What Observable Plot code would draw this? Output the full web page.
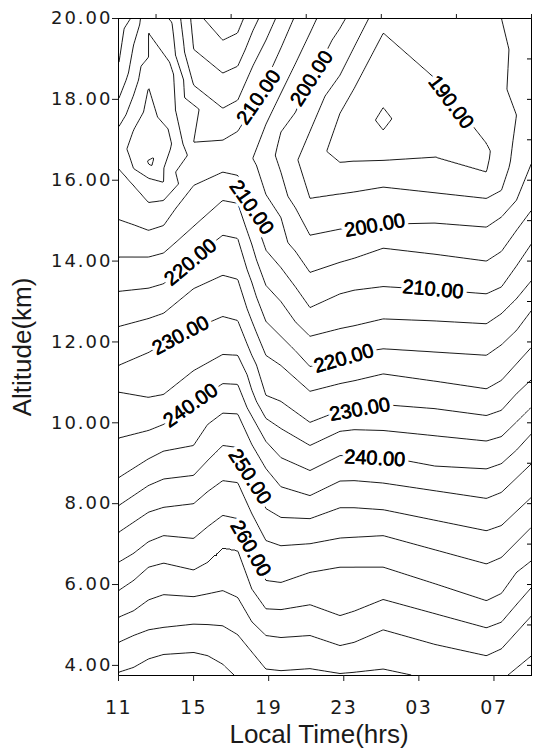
<!DOCTYPE html>
<html><head><meta charset="utf-8">
<script src="https://cdn.jsdelivr.net/npm/d3@7"></script>
<script src="https://cdn.jsdelivr.net/npm/@observablehq/plot@0.6"></script>
<style>body{margin:0;background:#fff} #chart svg{display:block}</style>
</head><body><div id="chart"></div>
<script>
// contour levels (K)
const levels = [185,190,195,200,205,210,215,220,225,230,235,240,245,250,255,260,265,270,275,280];

// local time columns (hours after 00 of day 1; 25 = 01 next day)
const colTime = [11.0, 11.8, 12.6, 13.4, 14.04, 15.0, 15.75, 16.55, 17.35, 18.15, 18.85, 19.65, 21.2, 22.8, 23.55, 25.1, 27.85, 30.6, 31.4, 33.0];
// temperatures read along each column
const colTemp = [
  [280,275,270,265,260,255,250,245,240,235,230,225,220,215,210,205,202.5,205,210,215],
  [280,275,270,265,260,215,210,205,200,198,200,205,210],
  [280,275,270,265,260,255,250,245,240,235,230,225,220,215,210,205,200,197.5,200,205],
  [280,275,270,265,260,255,250,245,240,235,230,225,220,215,210,205,200,197,200,205],
  [220,215,210,205,201.5,205,210],
  [280,275,270,265,260,255,250,245,240,235,230,225,220,215,210,206.8,210,215,220],
  [280,275,270,265,260,255,250,245],
  [280,275,270,265,260,255,250,245,240,235,230,225,220,215,210,207,210,215,220,225],
  [275,270,265,260,255,250,245,240,235,230,225,220,215,210,207,210,215,220,225],
  [210,205,210,215,220],
  [275,270,265,260,255,250,245,240,235,230,225,220,215,210,205,202.5,205,210,215],
  [275,270,265,260,255,250,245,240,235,230,225,220,215,210,205,200,198.5,200,205,210],
  [275,270,265,260,255,250,245,240,235,230,225,220,215,210,205,200,195,192.5,195,200,205],
  [275,270,265,260,255,250,245,240,235,230,225,220,215,210,205,200,195,190,188,190,195,200],
  [275,270,265,260,255,250,245,240,235,230,225,220,215,210,205,200,195,190,187,190,195],
  [275,270,265,260,255,250,245,240,235,230,225,220,215,210,205,200,195,190,185,185,190],
  [270,265,260,255,250,245,240,235,230,225,220,215,210,205,200,195,190,188.3,190],
  [270,265,260,255,250,245,240,235,230,225,220,215,210,205,200,195,190,189.3,190,192.5],
  [270,265,260,255,250,245,240,235,230,225,220,215,210,205,200,195,192],
  [275,270,265,260,255,250,245,240,235,230,225,220,215,210,205,200,198]
];
// altitudes (km) of those temperatures
const colAlt = [
  [3.83,4.57,5.19,5.85,6.55,7.29,7.95,8.64,9.62,10.76,11.42,12.38,13.25,14.10,15.03,16.29,16.81,17.31,18.00,18.84],
  [3.95,4.74,5.35,6.10,6.77,14.10,14.90,15.87,16.29,16.74,17.24,18.10,19.34],
  [4.16,4.88,5.62,6.43,7.06,7.79,8.45,9.11,9.81,10.63,11.74,12.58,13.33,14.10,14.76,15.45,16.05,17.48,18.30,19.64],
  [4.27,4.94,5.75,6.53,7.21,7.91,8.61,9.30,9.96,10.70,11.96,12.71,13.44,14.20,14.88,15.50,15.95,16.99,18.75,19.74],
  [13.69,14.46,15.30,16.20,16.86,17.73,19.09],
  [4.32,5.02,5.70,6.36,7.14,8.00,8.70,9.44,10.48,11.29,12.32,13.32,14.07,14.86,15.87,16.49,16.94,18.35,19.24],
  [4.24,5.01,5.77,6.55,7.43,8.30,9.07,9.96],
  [4.03,4.98,5.85,6.92,7.71,8.57,9.44,10.24,10.97,11.69,12.63,13.65,14.64,15.50,16.20,16.59,16.99,17.78,18.65,19.46],
  [4.76,5.68,6.84,7.63,8.52,9.39,10.22,10.95,11.67,12.53,13.55,14.56,15.43,16.12,16.62,17.21,17.98,18.82,19.64],
  [15.20,16.54,17.80,18.82,19.69],
  [3.91,4.74,5.40,6.10,7.09,7.88,8.87,9.54,10.11,10.68,11.67,12.51,13.40,14.27,15.65,16.49,17.38,18.45,19.46],
  [3.87,4.69,5.38,6.05,6.96,7.66,8.42,9.14,9.86,10.53,11.42,12.14,13.00,13.84,15.08,16.20,16.69,17.19,18.15,19.27],
  [3.92,4.74,5.50,6.30,7.01,7.63,8.20,8.82,9.44,10.01,10.78,11.39,12.14,12.85,13.72,14.64,15.55,16.37,17.21,18.50,19.64],
  [3.80,4.49,5.23,6.43,7.15,7.90,8.56,9.19,9.79,10.30,10.97,11.62,12.33,13.19,13.97,14.79,15.66,16.44,16.99,17.66,18.60,19.76],
  [3.83,4.57,5.34,6.43,7.17,7.90,8.57,9.19,9.83,10.43,11.04,11.72,12.40,13.28,14.07,14.83,15.71,16.47,17.36,18.27,19.29],
  [3.91,4.88,5.63,6.43,7.21,7.85,8.51,9.17,9.81,10.45,11.21,11.83,12.57,13.37,14.32,14.91,15.83,16.49,17.24,17.80,19.64],
  [4.52,5.28,6.02,6.86,7.59,8.32,8.93,9.68,10.35,11.03,11.75,12.52,13.29,14.17,14.94,15.69,16.57,17.48,18.52],
  [4.24,4.93,5.60,6.51,7.33,8.13,8.86,9.55,10.18,10.84,11.67,12.45,13.19,14.00,14.84,15.55,16.20,16.54,16.91,18.47],
  [4.41,5.07,5.78,6.67,7.46,8.28,8.99,9.66,10.31,11.05,11.93,12.70,13.36,14.24,15.09,15.75,17.24],
  [4.24,5.23,5.93,6.59,7.42,8.16,8.99,9.73,10.39,11.07,11.87,12.78,13.52,14.43,15.26,16.42,17.98]
];
// temperature along the top of the plot (20 km)
const topTime = [11.0,11.64,11.8,12.17,12.6,13.4,13.67,14.04,14.31,14.84,15.0,15.53,16.55,17.35,17.67,18.15,18.47,18.85,19.37,19.65,20.33,21.2,21.56,22.8,23.1,23.55,24.33,25.1,27.85,30.6,31.4,33.0];
const topTemp = [218,215,213.5,210,207.5,208,210,212.5,215,220,221,225,227,225.6,225,221.5,220,218,215,213.5,210,206.5,205,201,200,197.5,195,191,192,193.5,195,197.5];
// temperature along the bottom of the plot (3.75 km)
const bottomTime = [11.0,11.8,12.6,13.4,15.0,15.75,16.55,17.35,18.85,19.65,21.2,22.8,23.55,25.1,27.85,30.6,31.4,33.0];
const bottomTemp = [280.5,281.3,282.8,283.9,284.1,283.2,281.5,279.6,276,275.7,276,275.3,275.5,276,274.3,273.6,274.5,277];
// local minima (small closed contours)
const minTime = [12.71, 25.08];
const minAlt = [16.42, 17.53];
const minTemp = [194.3, 184.3];

// contour labels
const labelText = ["210.00","200.00","190.00","210.00","200.00","220.00","210.00","230.00","220.00","240.00","230.00","250.00","240.00","260.00"];
const labelTime = [18.47, 21.29, 28.71, 18.09, 24.65, 14.84, 27.75, 14.31, 23.0, 14.84, 23.85, 17.99, 24.65, 18.04];
const labelAlt  = [18.05, 18.52, 17.93, 15.33, 14.88, 13.97, 13.30, 12.16, 11.59, 10.43, 10.33, 8.67, 9.12, 6.89];
const labelAngle = [-55, -57, 53, 55, -10, -40, 5, -28, -16, -35, -10, 57, 3, 60];

// axes
const xTicks = [11, 15, 19, 23, 27, 31];
const xTickLabels = ["11", "15", "19", "23", "03", "07"];
const xTopTicks = [13, 17, 21, 25, 29, 33];
const yTicks = [4, 6, 8, 10, 12, 14, 16, 18, 20];
const yTickLabels = ["4.00", "6.00", "8.00", "10.00", "12.00", "14.00", "16.00", "18.00", "20.00"];
const yRightTicks = [4,5,6,7,8,9,10,11,12,13,14,15,16,17,18,19,20];

const samples = [];
colTime.forEach((t, i) => colAlt[i].forEach((a, j) => samples.push({t, alt: a, T: colTemp[i][j]})));
topTime.forEach((t, i) => samples.push({t, alt: 20, T: topTemp[i]}));
bottomTime.forEach((t, i) => samples.push({t, alt: 3.75, T: bottomTemp[i]}));
minTime.forEach((t, i) => samples.push({t, alt: minAlt[i], T: minTemp[i]}));

const labels = labelText.map((s, i) => ({s, t: labelTime[i], alt: labelAlt[i], a: labelAngle[i]}));

const chart = Plot.plot({
  width: 533, height: 753,
  marginLeft: 118, marginRight: 2, marginTop: 18, marginBottom: 78,
  x: {domain: [11, 33]},
  y: {domain: [3.75, 20]},
  style: {fontFamily: "DejaVu Sans", background: "white", color: "#1a1a1a"},
  marks: [
    Plot.contour(samples, {x: "t", y: "alt", value: "T", thresholds: levels, interpolate: "barycentric", pixelSize: 1, stroke: "black", strokeWidth: 0.9, fill: "none"}),
    Plot.text(labels, {x: "t", y: "alt", text: "s", rotate: "a", fontSize: 20, fontFamily: "Liberation Sans", fill: "black", stroke: "white", strokeWidth: 8, paintOrder: "stroke"}),
    Plot.text(labels, {x: "t", y: "alt", text: "s", rotate: "a", fontSize: 20, fontFamily: "Liberation Sans", fill: "black", stroke: "black", strokeWidth: 0.45}),
    Plot.frame({stroke: "black"}),
    Plot.axisX({ticks: xTicks, tickFormat: d => xTickLabels[xTicks.indexOf(d)], tickSize: 6, tickPadding: 19, fontSize: 19, label: null}),
    Plot.axisX({anchor: "top", ticks: xTopTicks, tickFormat: () => "", tickSize: 5, label: null}),
    Plot.axisY({ticks: yTicks, tickFormat: d => yTickLabels[yTicks.indexOf(d)], tickSize: 6, tickPadding: 0, fontSize: 18, label: null}),
    Plot.tickY(yRightTicks, {y: d => d, insetLeft: 409, stroke: "black"}),
    Plot.text(["Local Time(hrs)"], {frameAnchor: "bottom", dy: 59, dx: -6, fontSize: 26, fontFamily: "Liberation Sans", textAnchor: "middle", lineAnchor: "middle", fill: "#1a1a1a"}),
    Plot.text(["Altitude(km)"], {frameAnchor: "left", dx: -96, rotate: -90, fontSize: 26, fontFamily: "Liberation Sans", textAnchor: "middle", lineAnchor: "middle", fill: "#1a1a1a"})
  ]
});
d3.select(chart).selectAll('g[aria-label="y-axis tick label"] text').attr("letter-spacing", "2px");
d3.select(chart).selectAll('g[aria-label="x-axis tick label"] text').attr("letter-spacing", "1.5px");
document.getElementById("chart").appendChild(chart);
</script>
</body></html>
